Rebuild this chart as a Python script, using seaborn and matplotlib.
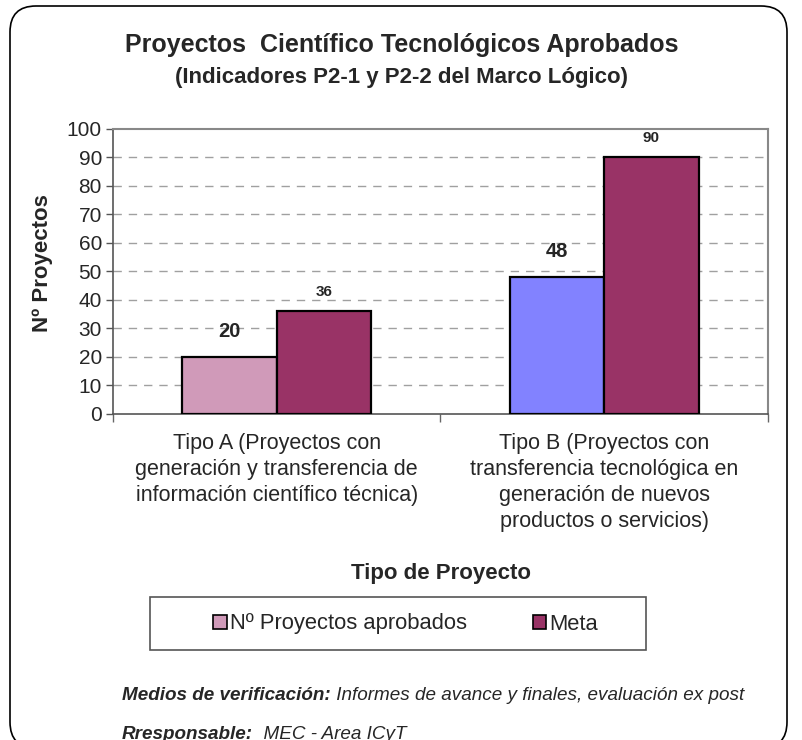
import matplotlib
matplotlib.use("Agg")
import matplotlib.pyplot as plt
from matplotlib.patches import Patch, FancyBboxPatch, Rectangle
import seaborn as sns
import pandas as pd

# ---- data ----
categories = [
    "Tipo A (Proyectos con\ngeneración y transferencia de\ninformación científico técnica)",
    "Tipo B (Proyectos con\ntransferencia tecnológica en\ngeneración de nuevos\nproductos o servicios)",
]
series = ["Nº Proyectos aprobados", "Meta"]
aprobados = [20, 48]
meta = [36, 90]
y_ticks = [0, 10, 20, 30, 40, 50, 60, 70, 80, 90, 100]

title = "Proyectos  Científico Tecnológicos Aprobados"
subtitle = "(Indicadores P2-1 y P2-2 del Marco Lógico)"
y_label = "Nº Proyectos"
x_label = "Tipo de Proyecto"
foot1_bold = "Medios de verificación:"
foot1_rest = " Informes de avance y finales, evaluación ex post"
foot2_bold = "Rresponsable:"
foot2_rest = "  MEC - Area ICyT"

pink = "#D09AB9"
blue = "#8282FF"
maroon = "#993366"

df = pd.DataFrame({
    "cat": categories * 2,
    "serie": [s for s in series for _ in categories],
    "valor": aprobados + meta,
})

sns.set_theme(style="white")
plt.rcParams["font.family"] = ["Liberation Sans", "DejaVu Sans"]

W, H = 803, 740
fig = plt.figure(figsize=(W / 100, H / 100), dpi=100)
ax = fig.add_axes([113 / W, 1 - 414 / H, (768 - 113) / W, (414 - 129) / H])

sns.barplot(data=df, x="cat", y="valor", hue="serie", palette=[pink, maroon],
            width=0.577, edgecolor="black", linewidth=1.6, saturation=1,
            legend=False, ax=ax, zorder=3)
# first series uses a different colour for category B
ax.containers[0][1].set_facecolor(blue)

ax.set_xlim(-0.5, 1.5)
ax.set_ylim(0, 100)
ax.set_yticks(y_ticks)
ax.set_yticklabels([str(t) for t in y_ticks], fontsize=15)
ax.tick_params(axis="y", direction="out", length=5, width=1, color="#555555", pad=3, left=True)
ax.set_xticks([0, 1])
ax.set_xticklabels(categories, fontsize=15.5, linespacing=1.3)
ax.tick_params(axis="x", length=0, pad=14)
ax.set_xticks([-0.5, 0.5, 1.5], minor=True)
ax.tick_params(axis="x", which="minor", direction="out", length=6, width=1, color="#666666", bottom=True)

for y in y_ticks[1:-1]:
    ax.axhline(y, color="#A0A0A0", linestyle=(0, (6, 5)), linewidth=1, zorder=1)

for side in ["left", "bottom"]:
    ax.spines[side].set_color("#555555")
    ax.spines[side].set_linewidth(1.2)
for side in ["top", "right"]:
    ax.spines[side].set_color("#888888")
    ax.spines[side].set_linewidth(1.5)
    ax.spines[side].set_visible(True)

ax.set_xlabel("")
ax.set_ylabel(y_label, fontsize=16, fontweight="bold")
ax.yaxis.set_label_coords(-0.092, 0.53)

# value labels
for bar, v in zip(ax.containers[0], aprobados):
    ax.annotate(str(v), (bar.get_x() + bar.get_width() / 2, v), xytext=(0, 18.5),
                textcoords="offset points", ha="center", va="center",
                fontsize=14.5, fontweight="bold")
for bar, v in zip(ax.containers[1], meta):
    ax.annotate(str(v), (bar.get_x() + bar.get_width() / 2, v), xytext=(0, 14),
                textcoords="offset points", ha="center", va="center",
                fontsize=11, fontweight="bold")

fig.text(0.5, 1 - 52 / H, title, ha="center", va="baseline", fontsize=18, fontweight="bold")
fig.text(0.5, 1 - 83 / H, subtitle, ha="center", va="baseline", fontsize=16, fontweight="bold")
fig.text(441 / W, 1 - 573 / H, x_label, ha="center", va="center", fontsize=16, fontweight="bold")

# legend frame + legend
fig.patches.append(Rectangle((150 / W, 1 - 650 / H), (646 - 150) / W, 53 / H,
                             transform=fig.transFigure, facecolor="white",
                             edgecolor="#555555", linewidth=1.2))
handles = [Patch(facecolor=pink, edgecolor="black", linewidth=1.2),
           Patch(facecolor=maroon, edgecolor="black", linewidth=1.2)]
leg = fig.legend(handles, series, loc="center left", ncol=2,
                 bbox_to_anchor=(213 / W, 1 - 624 / H),
                 fontsize=15.8, frameon=False, handlelength=0.62,
                 handleheight=0.62, handletextpad=0.15, borderaxespad=0, borderpad=0,
                 columnspacing=3.0)

foot_font = ["Liberation Sans Narrow", "Liberation Sans", "DejaVu Sans"]
t1 = fig.text(122 / W, 1 - 700 / H, foot1_bold, fontsize=13.6, fontweight="bold",
              fontstyle="italic", family=foot_font, va="baseline")
ax.annotate(foot1_rest, xy=(1, 0), xycoords=t1, va="bottom", ha="left",
            fontsize=13.6, fontstyle="italic", family=foot_font, annotation_clip=False)
t2 = fig.text(122 / W, 1 - 739 / H, foot2_bold, fontsize=13.6, fontweight="bold",
              fontstyle="italic", family=foot_font, va="baseline")
ax.annotate(foot2_rest, xy=(1, 0), xycoords=t2, va="bottom", ha="left",
            fontsize=13.6, fontstyle="italic", family=foot_font, annotation_clip=False)

border = FancyBboxPatch((0.10, -0.08), 7.77, 7.42, boxstyle="round,pad=0,rounding_size=0.26",
                        transform=fig.dpi_scale_trans, facecolor="none", edgecolor="black",
                        linewidth=1.2)
fig.patches.append(border)

fig.savefig("out.png", dpi=100)
